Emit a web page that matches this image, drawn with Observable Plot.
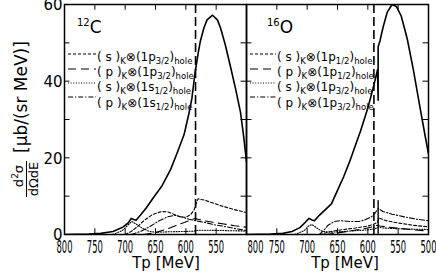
<!DOCTYPE html>
<html><head><meta charset="utf-8">
<script src="https://cdn.jsdelivr.net/npm/d3@7"></script>
<script src="https://cdn.jsdelivr.net/npm/@observablehq/plot@0.6"></script>
<style>
body{margin:0;background:#fff;}
#chart{position:relative;width:436px;height:273px;font-family:"DejaVu Sans",sans-serif;}
#chart svg{position:absolute;left:0;top:0;}
</style></head><body><div id="chart"></div>
<script>
// ---------- 12C panel ----------
const c12TotalTp = [800,760,740,720,705,695,690,686,682,675,665,653,640,625,615,603,595,590,585,580,576,570,565,556,548,543,535,526,518,510,505,500];
const c12Total   = [0,0.1,0.3,0.8,1.8,3.0,4.2,3.9,3.7,5.0,7.0,9.7,12.5,17.0,21.0,26.0,31.5,35.5,42.0,47.0,50.5,54.0,56.0,57.2,56.0,54.0,49.5,43.5,38.0,32.0,26.0,19.0];
const c12SpTp = [700,690,680,670,655,640,630,620,610,600,592,586,584,580,570,555,540,520,500];
const c12Sp   = [0,0.8,2.0,3.5,5.2,6.0,5.9,5.3,4.6,4.5,5.2,6.5,7.5,9.3,9.0,8.2,7.4,6.5,5.7];
const c12PpTp = [670,650,630,610,595,585,580,570,555,540,520,500];
const c12Pp   = [0,0.5,1.5,2.7,3.6,4.2,4.0,3.6,3.2,2.8,2.3,1.9];
const c12SsTp = [720,705,695,689,680,670,660,650,630,600,585,580,560,530,500];
const c12Ss   = [0,1.0,2.5,3.4,2.5,1.5,0.8,0.6,0.7,0.8,0.9,1.1,1.1,1.0,0.9];
const c12PsTp = [690,675,660,645,630,618,605,595,585,570,555,540,520,500];
const c12Ps   = [0,0.8,2.0,3.5,4.6,5.0,4.5,4.0,3.6,3.2,2.6,2.2,1.6,1.0];
const c12Threshold = [584];

// ---------- 16O panel ----------
const o16TotalTp = [800,760,740,725,712,703,697,692,688,680,670,660,650,640,630,620,612,600,590,584,583,583,580,575,568,560,553,545,535,525,515,507,500];
const o16Total   = [0,0.1,0.3,0.8,1.8,3.2,4.2,3.8,3.6,5.0,6.5,8.0,11.5,15.0,19.0,23.5,27.0,33.0,39.0,43.0,35.0,49.0,50.5,54.0,58.0,60.0,59.5,57.0,51.0,43.0,34.0,27.0,21.0];
const o16SpikeTp = [583,583];
const o16Spike   = [0.3,8.8];
const o16Sp12Tp = [680,660,640,620,600,590,584,582,570,550,525,500];
const o16Sp12   = [0,0.8,1.3,1.7,2.2,2.7,3.2,4.3,3.6,3.0,2.4,2.0];
const o16Pp12Tp = [670,650,630,610,595,585,580,560,530,500];
const o16Pp12   = [0,0.4,0.9,1.4,1.9,2.4,2.2,1.8,1.3,0.9];
const o16Sp32Tp = [720,705,698,692,685,675,660,640,620,600,588,583,575,550,525,500];
const o16Sp32   = [0,1.0,2.2,2.6,1.8,0.8,0.6,0.8,1.0,1.2,1.5,1.9,1.7,1.5,1.4,1.3];
const o16Pp32Tp = [680,672,665,655,645,630,615,605,595,588,583,575,560,540,520,500];
const o16Pp32   = [0,1.2,2.5,3.4,3.6,3.4,3.4,3.8,4.5,5.6,6.8,6.0,5.3,4.6,4.0,3.6];
const o16Threshold = [590];

// ---------- axes ----------
const xTicks = [800,750,700,650,600,550,500];
const xLabelsC = [800,750,700,650,600,550];
const xLabelsO = [750,700,650,600,550,500];
const xLabelsOStart = [800];
const yTicks = [0,10,20,30,40,50,60];
const yLabels = [0,20,40,60];

const legendC = [["s","1p","3/2"],["p","1p","3/2"],["s","1s","1/2"],["p","1s","1/2"]];
const legendO = [["s","1p","1/2"],["p","1p","1/2"],["s","1p","3/2"],["p","1p","3/2"]];

const rows = (tp, v) => tp.map((t, i) => ({tp: t, v: v[i]}));
const DASH = {short: "3,2", long: "8,5", dot: "1,1.6", dashdot: "5,2,1.2,2"};

function panel({ml, mr, total, comps, threshold, extra, xLabels, xStart, yLab}) {
  const marks = [
    Plot.ruleX(threshold, {x: d => d, y1: 0, y2: 60, stroke: "#000", strokeWidth: 1.6, strokeDasharray: "9,4"}),
    ...comps.map(c => Plot.line(c.data, {x: "tp", y: "v", stroke: "#000", strokeWidth: 1.1, strokeDasharray: c.dash, clip: true})),
    ...extra.map(e => Plot.line(e, {x: "tp", y: "v", stroke: "#000", strokeWidth: 1.4, clip: true})),
    Plot.line(total, {x: "tp", y: "v", stroke: "#000", strokeWidth: 1.6, clip: true}),
    Plot.ruleX(xTicks, {x: d => d, y1: 0, y2: 1.5, stroke: "#000"}),
    Plot.ruleX(xTicks, {x: d => d, y1: 58.5, y2: 60, stroke: "#000"}),
    Plot.ruleY(yTicks, {y: d => d, x1: 800, x2: 791, stroke: "#000"}),
    Plot.ruleY(yTicks, {y: d => d, x1: 509, x2: 500, stroke: "#000"}),
    Plot.frame({stroke: "#000", strokeWidth: 1.5}),
    Plot.text(xLabels, {x: d => d, text: d => String(d), frameAnchor: "bottom", lineAnchor: "bottom", dy: 18, fontSize: 18})
  ];
  if (xStart) marks.push(Plot.text(xStart, {x: d => d, text: d => String(d), frameAnchor: "bottom", lineAnchor: "bottom", dy: 18, dx: 1, textAnchor: "start", fontSize: 18}));
  if (yLab) marks.push(Plot.text(yLab, {y: d => d, text: d => String(d), frameAnchor: "left", textAnchor: "end", dx: -2, dy: 1, fontSize: 15}));
  return Plot.plot({
    width: 436, height: 273,
    marginLeft: ml, marginRight: mr, marginTop: 4, marginBottom: 39,
    x: {domain: [800, 500], axis: null},
    y: {domain: [0, 60], axis: null},
    style: {background: "transparent", overflow: "visible", fontFamily: "DejaVu Sans, sans-serif", color: "#000"},
    marks
  });
}

const plotC = panel({
  ml: 64, mr: 190,
  total: rows(c12TotalTp, c12Total),
  comps: [
    {data: rows(c12SpTp, c12Sp), dash: DASH.short},
    {data: rows(c12PpTp, c12Pp), dash: DASH.long},
    {data: rows(c12SsTp, c12Ss), dash: DASH.dot},
    {data: rows(c12PsTp, c12Ps), dash: DASH.dashdot}
  ],
  threshold: c12Threshold, extra: [], xLabels: xLabelsC, xStart: null, yLab: yLabels
});
const plotO = panel({
  ml: 246, mr: 8,
  total: rows(o16TotalTp, o16Total),
  comps: [
    {data: rows(o16Sp12Tp, o16Sp12), dash: DASH.short},
    {data: rows(o16Pp12Tp, o16Pp12), dash: DASH.long},
    {data: rows(o16Sp32Tp, o16Sp32), dash: DASH.dot},
    {data: rows(o16Pp32Tp, o16Pp32), dash: DASH.dashdot}
  ],
  threshold: o16Threshold, extra: [rows(o16SpikeTp, o16Spike)], xLabels: xLabelsO, xStart: xLabelsOStart, yLab: null
});

const chart = document.getElementById("chart");
chart.appendChild(plotC);
chart.appendChild(plotO);

for (const p of [plotC, plotO]) {
  d3.select(p).selectAll("text")
    .filter(function() { return /^\d{3}$/.test(this.textContent); })
    .attr("textLength", 16).attr("lengthAdjust", "spacingAndGlyphs");
}

function addLegend(svg, x0, x1, items, isoMass, isoSym, isoX) {
  const s = d3.select(svg);
  const dashes = [DASH.short, DASH.long, DASH.dot, DASH.dashdot];
  const lineY = [54, 69, 83, 97];
  const textY = [61, 76, 91, 107];
  items.forEach((it, i) => {
    s.append("line").attr("x1", x0).attr("x2", x1).attr("y1", lineY[i]).attr("y2", lineY[i])
      .attr("stroke", "#000").attr("stroke-width", 1.1).attr("stroke-dasharray", dashes[i]);
    const t = s.append("text").attr("x", x1 + 1).attr("y", textY[i]).attr("text-anchor", "start")
      .attr("font-size", 12).attr("font-family", "DejaVu Sans, sans-serif").attr("fill", "#000");
    t.append("tspan").text(`( ${it[0]} )`);
    t.append("tspan").attr("font-size", 8.5).attr("dy", 3).text("K");
    t.append("tspan").attr("dy", -3).text("⊗(" + it[1]);
    t.append("tspan").attr("font-size", 8.5).attr("dy", 3).text(it[2]);
    t.append("tspan").attr("dy", -3).text(")");
    t.append("tspan").attr("font-size", 8.5).attr("dy", 3).text("hole");
  });
  const n = s.append("text").attr("x", isoX).attr("y", 33).attr("font-size", 17).attr("text-anchor", "start")
    .attr("font-family", "DejaVu Sans, sans-serif").attr("fill", "#000");
  n.append("tspan").attr("font-size", 10).attr("dy", -7).text(isoMass);
  n.append("tspan").attr("dy", 7).text(isoSym);
}
addLegend(plotC, 68, 96, legendC, "12", "C", 77);
addLegend(plotO, 250, 276, legendO, "16", "O", 267);

// x-axis titles
for (const [svg, cx] of [[plotC, 166], [plotO, 345]]) {
  d3.select(svg).append("text").attr("x", cx).attr("y", 268).attr("text-anchor", "middle")
    .attr("font-size", 15).attr("font-family", "DejaVu Sans, sans-serif").attr("fill", "#000")
    .text("Tp [MeV]");
}

// y-axis title
const sC = d3.select(plotC);
const yt = sC.append("g").attr("font-family", "DejaVu Sans, sans-serif").attr("fill", "#000");
yt.append("text").attr("transform", "translate(27,153) rotate(-90)").attr("text-anchor", "start").attr("font-size", 17).text("[μb/(sr MeV)]");
const num = yt.append("text").attr("transform", "translate(23,176) rotate(-90)").attr("text-anchor", "middle").attr("font-size", 13);
num.append("tspan").text("d");
num.append("tspan").attr("font-size", 9).attr("dy", -5).text("2");
num.append("tspan").attr("dy", 5).text("σ");
yt.append("text").attr("transform", "translate(38,179) rotate(-90)").attr("text-anchor", "middle").attr("font-size", 13).text("dΩdE");
yt.append("line").attr("x1", 26.5).attr("x2", 26.5).attr("y1", 161).attr("y2", 197).attr("stroke", "#000").attr("stroke-width", 1);
</script></body></html>
